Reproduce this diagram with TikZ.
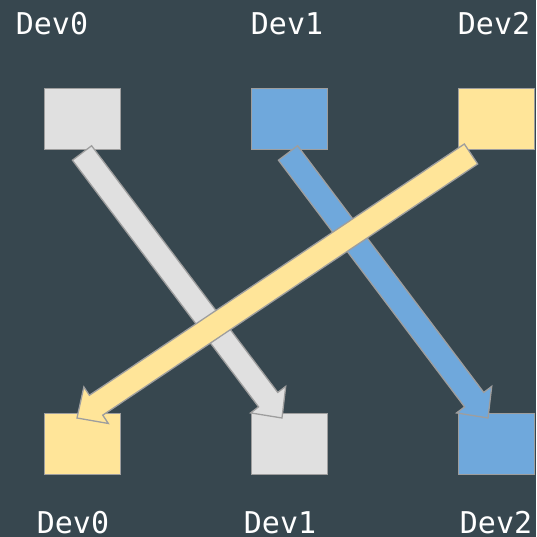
\documentclass[tikz,border=0pt]{standalone}
\usepackage{fontspec}
\setmonofont{DejaVu Sans Mono}
\usetikzlibrary{calc}
\definecolor{bg}{HTML}{37474F}
\definecolor{gbox}{HTML}{E0E0E0}
\definecolor{bbox}{HTML}{6FA8DC}
\definecolor{ybox}{HTML}{FFE599}
\definecolor{edge}{HTML}{9E9E9E}
\tikzset{
  devbox/.style={draw=edge, line width=1.5pt, inner sep=0pt, minimum width=76pt, minimum height=61pt},
  lbl/.style={text=white, font=\ttfamily\fontsize{30}{30}\selectfont, inner sep=0pt, anchor=base},
}
\newcommand\fatarrow[4]{%
  \coordinate (#4h) at ($(#2)!23pt!(#1)$);
  \filldraw[fill=#3, draw=edge, line width=1.3pt, line join=miter]
    ($(#1)!12pt!90:(#2)$) -- ($(#4h)!12pt!90:(#2)$) -- ($(#4h)!22pt!90:(#2)$) -- (#2)
    -- ($(#4h)!22pt!-90:(#2)$) -- ($(#4h)!12pt!-90:(#2)$) -- ($(#1)!12pt!-90:(#2)$) -- cycle;
}
\begin{document}
\begin{tikzpicture}[x=1pt,y=-1pt]
\fill[bg] (0,0) rectangle (536,537);
\useasboundingbox (0,0) rectangle (536,537);
% labels
\node[lbl] (l0) at (52,35) {Dev0};
\node[lbl] (l1) at (287,35) {Dev1};
\node[lbl] (l2) at (494,35) {Dev2};
\node[lbl] (b0) at (73,533) {Dev0};
\node[lbl] (b1) at (280,533) {Dev1};
\node[lbl] (b2) at (496,533) {Dev2};
% boxes
\node[devbox, fill=gbox] (t0) at (82.5,119) {};
\node[devbox, fill=bbox] (t1) at (289.5,119) {};
\node[devbox, fill=ybox] (t2) at (496.5,119) {};
\node[devbox, fill=ybox] (d0) at (82.5,444) {};
\node[devbox, fill=gbox] (d1) at (289.5,444) {};
\node[devbox, fill=bbox] (d2) at (496.5,444) {};
% arrow endpoints
\coordinate (gs) at (82,153);
\coordinate (ge) at (282,418);
\coordinate (bs) at (288,153);
\coordinate (be) at (488,418);
\coordinate (ys) at (471,154);
\coordinate (ye) at (77,418);
\fatarrow{gs}{ge}{gbox}{ga}
\fatarrow{bs}{be}{bbox}{ba}
\fatarrow{ys}{ye}{ybox}{ya}
\end{tikzpicture}
\end{document}
